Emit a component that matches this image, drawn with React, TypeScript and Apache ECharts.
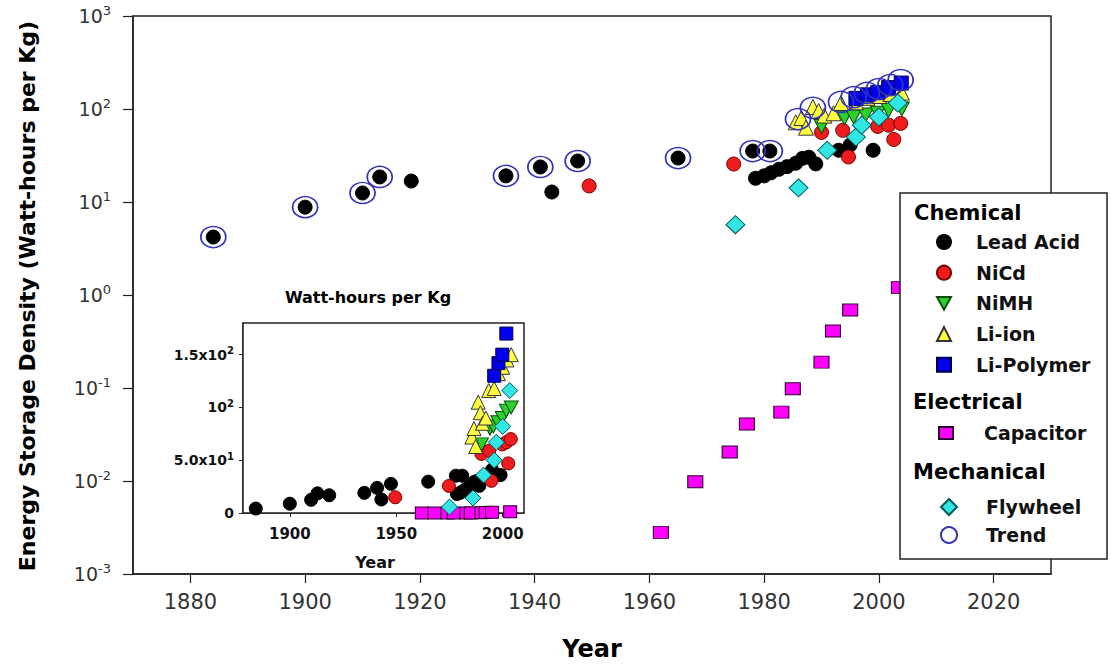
import React, { useEffect, useRef } from "react";
import * as echarts from "echarts";

// ---- data (year, Watt-hours per Kg) ----
const leadAcid: number[][] = [
  [1884, 4.2], [1900, 8.8], [1910, 12.5], [1913, 18.6], [1918.5, 16.8], [1935, 19.1],
  [1941, 23.8], [1943, 12.8], [1947.5, 27.6], [1965, 29.7], [1978, 35.3], [1981, 35.3],
  [1978.5, 18], [1980, 19.1], [1981.2, 20.6], [1982.6, 22.5], [1984, 24], [1985.5, 26.1],
  [1986.7, 29.5], [1987.8, 30.3], [1989, 25.7], [1993, 36], [1995, 41], [1999, 36],
];
const niCd: number[][] = [
  [1949.5, 14.9], [1974.7, 25.6], [1990, 56], [1993.7, 59], [1994.7, 30.5],
  [1999.8, 65], [2001.7, 67], [2002.6, 47], [2003.8, 70],
];
const niMH: number[][] = [
  [1990, 65], [1994, 80], [1995.6, 82], [1997.7, 86], [1999.8, 90], [2001.7, 97], [2004, 100],
];
const liIon: number[][] = [
  [1985.5, 72], [1986.5, 80], [1987.3, 63], [1988.5, 105], [1989.5, 95], [1990.5, 85],
  [1992.1, 90], [1993.4, 116], [1996, 118], [1998, 132], [2000, 138], [2002, 145], [2004, 150],
];
const liPolymer: number[][] = [
  [1996, 130], [1998, 142], [1999.8, 150], [2001.7, 170], [2003.9, 190],
];
const capacitor: number[][] = [
  [1962, 0.0028], [1968, 0.0098], [1974, 0.0205], [1977, 0.041], [1983, 0.055],
  [1985, 0.098], [1990, 0.19], [1992, 0.41], [1995, 0.69], [2003.5, 1.2],
];
const flywheel: number[][] = [
  [1975, 5.7], [1986, 14.2], [1991, 36], [1996, 50], [1997, 67], [2000, 82], [2003.3, 116],
];
const trend: number[][] = [
  [1884, 4.2], [1900, 8.8], [1910, 12.5], [1913, 18.6], [1935, 19.1], [1941, 23.8],
  [1947.5, 27.6], [1965, 29.7], [1978, 35.3], [1981, 35.3], [1985.9, 78], [1988.5, 103],
  [1993.4, 119], [1995.6, 134], [1997.9, 149], [2000, 164], [2002, 181], [2003.8, 205],
];

// ---- axis ticks / labels ----
const mainXTicks = [1880, 1900, 1920, 1940, 1960, 1980, 2000, 2020];
const insetXTicks = [1900, 1950, 2000];
const insetYTicks = [0, 50, 100, 150];
const insetYTickText = [["0", ""], ["5.0x10", "1"], ["10", "2"], ["1.5x10", "2"]];

const chemicalNames = ["Lead Acid", "NiCd", "NiMH", "Li-ion", "Li-Polymer"];
const electricalNames = ["Capacitor"];
const mechanicalNames = ["Flywheel", "Trend"];

const FONT = "DejaVu Sans";
const DOWN_TRIANGLE = "path://M0,0 L10,0 L5,9 Z";

type Sty = {
  name: string;
  data: number[][];
  symbol: string;
  size: number | number[];
  insetSize: number | number[];
  color: string;
  border: string;
  rotate?: number;
  inset: boolean;
};

const styles: Sty[] = [
  { name: "Lead Acid", data: leadAcid, symbol: "circle", size: 14, insetSize: 13, color: "#000000", border: "#000000", inset: true },
  { name: "NiCd", data: niCd, symbol: "circle", size: 14, insetSize: 13, color: "#ee1c1c", border: "#7a0000", inset: true },
  { name: "NiMH", data: niMH, symbol: DOWN_TRIANGLE, size: [15, 14], insetSize: [14, 13], color: "#2bd12b", border: "#0a4a0a", inset: true },
  { name: "Li-ion", data: liIon, symbol: "triangle", size: 15, insetSize: 14, color: "#ffff40", border: "#333333", inset: true },
  { name: "Li-Polymer", data: liPolymer, symbol: "rect", size: 14, insetSize: 13, color: "#0000ee", border: "#00004a", inset: true },
  { name: "Capacitor", data: capacitor, symbol: "rect", size: [15, 12], insetSize: [13, 12], color: "#ff00ff", border: "#2a002a", inset: true },
  { name: "Flywheel", data: flywheel, symbol: "diamond", size: [19, 18], insetSize: [16, 16], color: "#33e6e6", border: "#005a5a", inset: true },
  { name: "Trend", data: trend, symbol: "circle", size: [25, 21], insetSize: 0, color: "rgba(0,0,0,0)", border: "#3333bb", inset: false },
];

export default function App() {
  const ref = useRef<HTMLDivElement>(null);

  useEffect(() => {
    if (!ref.current) return;
    const chart = echarts.init(ref.current, undefined, { renderer: "svg" });

    const series: any[] = [];
    styles.forEach((s) => {
      series.push({
        type: "scatter",
        name: s.name,
        data: s.data,
        xAxisIndex: 0,
        yAxisIndex: 0,
        symbol: s.symbol,
        symbolSize: s.size,
        itemStyle: {
          color: s.color,
          borderColor: s.border,
          borderWidth: s.name === "Trend" ? 1.6 : 1,
          opacity: 1,
        },
        emphasis: { disabled: true },
        z: 3,
      });
    });
    styles.forEach((s) => {
      if (!s.inset) return;
      series.push({
        type: "scatter",
        name: s.name,
        data: s.data,
        xAxisIndex: 1,
        yAxisIndex: 1,
        symbol: s.symbol,
        symbolSize: s.insetSize,
        clip: true,
        itemStyle: { color: s.color, borderColor: s.border, borderWidth: 1, opacity: 1 },
        emphasis: { disabled: true },
        z: 3,
      });
    });

    const legendText = (pad: number) => ({
      fontFamily: FONT,
      fontWeight: "bold",
      fontSize: 19,
      color: "#111",
      lineHeight: 20,
      padding: [0, 0, 0, pad],
    });

    const option: any = {
      animation: false,
      backgroundColor: "#ffffff",
      grid: [
        {
          left: 133, top: 16, width: 918, height: 558,
          show: true, borderColor: "#222", borderWidth: 1.5, backgroundColor: "transparent",
        },
        {
          left: 243, top: 323, width: 281, height: 190,
          show: true, borderColor: "#222", borderWidth: 1.5, backgroundColor: "#ffffff", z: 1,
        },
      ],
      xAxis: [
        {
          type: "value", gridIndex: 0, min: 1870, max: 2030,
          axisLine: { show: true, onZero: false, lineStyle: { color: "#222", width: 1.5 } },
          axisTick: { show: true, length: 9, customValues: mainXTicks, lineStyle: { color: "#222", width: 1.2 } },
          axisLabel: {
            customValues: mainXTicks, margin: 17, fontFamily: FONT, fontSize: 21, color: "#333",
            formatter: (v: number) => String(v),
          },
          splitLine: { show: false },
        },
        {
          type: "value", gridIndex: 1, min: 1878, max: 2010,
          axisLine: { show: true, onZero: false, lineStyle: { color: "#222", width: 1.5 } },
          axisTick: { show: true, length: 4, customValues: insetXTicks, lineStyle: { color: "#222" } },
          axisLabel: {
            customValues: insetXTicks, margin: 13, fontFamily: FONT, fontWeight: "bold", fontSize: 15, color: "#111",
            formatter: (v: number) => String(v),
          },
          splitLine: { show: false },
        },
      ],
      yAxis: [
        {
          type: "log", logBase: 10, gridIndex: 0, min: 0.001, max: 1000, splitNumber: 6,
          axisLine: { show: true, lineStyle: { color: "#222", width: 1.5 } },
          axisTick: { show: true, length: 10, lineStyle: { color: "#222", width: 1.2 } },
          minorTick: { show: false },
          axisLabel: {
            margin: 22,
            formatter: (v: number) => `{b|10}{s|${Math.round(Math.log10(v))}}`,
            rich: {
              b: { fontFamily: FONT, fontSize: 19, color: "#333", lineHeight: 24 },
              s: { fontFamily: FONT, fontSize: 13, color: "#333", lineHeight: 14, verticalAlign: "top" },
            },
          },
          splitLine: { show: false },
        },
        {
          type: "value", gridIndex: 1, min: 0, max: 180,
          axisLine: { show: true, lineStyle: { color: "#222", width: 1.5 } },
          axisTick: { show: true, length: 4, customValues: insetYTicks, lineStyle: { color: "#222" } },
          axisLabel: {
            customValues: insetYTicks,
            margin: 9,
            formatter: (v: number) => {
              const i = insetYTicks.indexOf(v);
              const t = i >= 0 ? insetYTickText[i] : [String(v), ""];
              return t[1] ? `{b|${t[0]}}{s|${t[1]}}` : `{b|${t[0]}}`;
            },
            rich: {
              b: { fontFamily: FONT, fontWeight: "bold", fontSize: 14, color: "#111", lineHeight: 18 },
              s: { fontFamily: FONT, fontWeight: "bold", fontSize: 10, color: "#111", lineHeight: 10, verticalAlign: "top" },
            },
          },
          splitLine: { show: false },
        },
      ],
      legend: [
        {
          data: chemicalNames, orient: "vertical", left: 936, top: 232, padding: 0,
          itemWidth: 14, itemHeight: 14, itemGap: 10.7, selectedMode: false, z: 30,
          textStyle: legendText(20),
        },
        {
          data: electricalNames, orient: "vertical", left: 938, top: 423, padding: 0,
          itemWidth: 14, itemHeight: 12, itemGap: 10, selectedMode: false, z: 30,
          textStyle: legendText(26),
        },
        {
          data: mechanicalNames, orient: "vertical", left: 940, top: 497, padding: 0,
          itemWidth: 16, itemHeight: 16, itemGap: 8, selectedMode: false, z: 30,
          textStyle: legendText(24),
        },
      ],
      graphic: [
        {
          type: "rect", z: 20,
          shape: { x: 900, y: 193, width: 207, height: 366 },
          style: { fill: "#ffffff", stroke: "#222", lineWidth: 1.5 },
        },
        {
          type: "text", z: 30, x: 914, y: 213,
          style: { text: "Chemical", fontFamily: FONT, fontWeight: "bold", fontSize: 21, fill: "#000", align: "left", verticalAlign: "middle" },
        },
        {
          type: "text", z: 30, x: 913, y: 402,
          style: { text: "Electrical", fontFamily: FONT, fontWeight: "bold", fontSize: 21, fill: "#000", align: "left", verticalAlign: "middle" },
        },
        {
          type: "text", z: 30, x: 913, y: 472,
          style: { text: "Mechanical", fontFamily: FONT, fontWeight: "bold", fontSize: 21, fill: "#000", align: "left", verticalAlign: "middle" },
        },
        {
          type: "text", z: 30, x: 27, y: 296, rotation: Math.PI / 2,
          style: {
            text: "Energy Storage Density (Watt-hours per Kg)", fontFamily: FONT, fontWeight: "bold",
            fontSize: 22, fill: "#000", align: "center", verticalAlign: "middle",
          },
        },
        {
          type: "text", z: 30, x: 592, y: 649,
          style: { text: "Year", fontFamily: FONT, fontWeight: "bold", fontSize: 24, fill: "#000", align: "center", verticalAlign: "middle" },
        },
        {
          type: "text", z: 30, x: 368, y: 297,
          style: { text: "Watt-hours per Kg", fontFamily: FONT, fontWeight: "bold", fontSize: 16, fill: "#000", align: "center", verticalAlign: "middle" },
        },
        {
          type: "text", z: 30, x: 375, y: 562,
          style: { text: "Year", fontFamily: FONT, fontWeight: "bold", fontSize: 16, fill: "#111", align: "center", verticalAlign: "middle" },
        },
      ],
      series,
    };

    chart.setOption(option);
    return () => chart.dispose();
  }, []);

  return (
    <div
      ref={ref}
      style={{ position: "absolute", left: 0, top: 0, width: 1111, height: 665, background: "#fff" }}
    />
  );
}
